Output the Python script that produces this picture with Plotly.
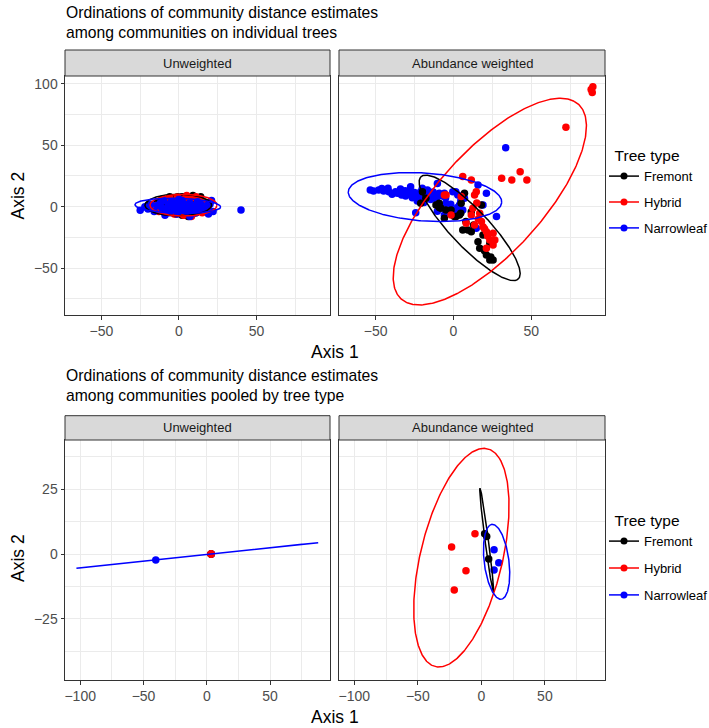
import numpy as np
import plotly.graph_objects as go

W, H = 709, 728

groups = ["Fremont", "Hybrid", "Narrowleaf"]
colors = {"Fremont": "#000000", "Hybrid": "#FF0000", "Narrowleaf": "#0000FF"}

# ---------------- Top: individual trees, Unweighted ----------------
ind_uw_fremont_x = [-19, -16, -14, -12, -11, -9, -8, -7, -5, -4, -3, -2, -1, 0, 1, 2, 3, 4, 5, 6, 7, 8, 9, 10, 11, 12, 13, 14, 15, 16, 17, 6, 9, -6, 2]
ind_uw_fremont_y = [2, -1, 4, -3, 6, 1, -5, 3, -2, 7, 0, -6, 5, 2, -4, 8, -1, 3, -7, 6, 0, -3, 7, 2, -5, 4, -2, 8, 1, -4, 3, -8, 9, 8, -7]
ind_uw_hybrid_x = [-15, -13, -10, -8, -6, -5, -3, -1, 0, 1, 2, 3, 4, 5, 6, 7, 8, 9, 10, 11, 12, 13, 14, 15, 16, 18, 19, 3, 8, 11, -2, 5]
ind_uw_hybrid_y = [1, -4, 5, -2, 7, 3, -6, 8, -1, 4, -5, 6, 2, 8, -3, 5, 7, -6, 1, 8, -2, 6, 4, -5, 2, 0, -3, -7, -8, 7, 3, 9]
ind_uw_narrow_x = [-25, -22, -20, -18, -16, -14, -12, -11, -10, -8, -7, -6, -5, -4, -3, -2, -1, 0, 1, 2, 3, 4, 5, 6, 7, 8, 9, 10, 11, 12, 13, 14, 16, 18, 19, 20, 21, 22, 40, -9, 0, 7, 3]
ind_uw_narrow_y = [-3, 0, -2, 2, -4, 1, 3, -1, 5, -3, 2, -5, 4, 0, -2, 3, -6, 1, -3, 5, -1, 2, -4, 0, 3, -6, -2, 1, -5, 4, -1, 2, -3, 1, -6, 2, 5, -4, -2.7, -7, 6, -8, -3]

# ---------------- Top: individual trees, Abundance weighted ----------------
ind_aw_fremont_x = [-8, -4.8, 0.6, 3.9, 7.1, 5, 11.5, 6, 9.3, 11.5, 18, 15.8, 16.9, 21.2, 23.4, 25.5, 23.4, 19, -9.1, -19.9, -17.7, -21, -11.2, -9.1, -5.8, -1.5, 1.7, 4.7, 13, 20, 24, 8]
ind_aw_fremont_y = [-1.3, -2.7, -8.1, -6.8, 10.9, 2.8, -4.1, -19, -19, -20.4, 1.4, -28.5, -33.9, -39.4, -43.4, -43.4, -29.8, -23, 2.8, 12.2, 6.8, 2.8, 1.4, -0.7, -9.5, -2.7, -8.1, -5.4, -15, -36, -41, -12]
ind_aw_hybrid_x = [6, 11.5, 14.7, 13.6, -4.7, 16.9, 11.5, 13.6, 19, 21.2, 25.5, 23.4, 25.5, 21.2, 26.6, 12.5, 8.2, 31, 37.5, 42.9, 47.2, -5.8, -1.5, 5, 72.3, 89.6, 88.5, 89.2, 16, 18, 22, 15, 20]
ind_aw_hybrid_y = [24.5, 21.8, 12.2, 9.5, 9.5, -5.4, -6.8, -14.9, -16.3, -20.4, -21.7, -27.1, -31.2, -33.9, -27.1, -1.3, -13.5, 23.1, 21.8, 28.5, 21.8, 9.5, -6.8, 8.2, 64.7, 97.8, 95.5, 93, -10, -12, -24, 3, -18]
ind_aw_narrow_x = [-53.4, -51.3, -48, -44.8, -41.5, -39.4, -37.2, -34, -33.3, -30.7, -28.6, -27.5, -26.4, -24.2, -23.2, -21, -19.9, -18.9, -16.7, -14.6, -12.4, -10.3, -9.2, -7.1, -24.2, -10.3, -5, -1.7, 1.5, 2.6, 4.7, -9.1, -5.8, -4.8, -0.4, 2.8, 3.9, 7.1, 6.0, 0.6, 15.8, 21.2, 19, 27.7, -5.8, 14.7, 33.6, -46, -42, -36, -31, -29, -25, -22, -17, -15, -13, -20, -11]
ind_aw_narrow_y = [13.6, 12.8, 13.6, 12.8, 12.2, 10.1, 12.2, 14.4, 9.6, 8.6, 12.2, 16.2, 7.3, 9.6, 4.6, 12.2, 8.6, 3.3, 13.6, 5.9, 9.6, 18.9, 2.0, 8.6, -5, -3.8, 7.3, 2.0, 12.2, -0.7, 4.6, 10.9, 10.9, 2.8, 12.2, 9.6, 1.4, 6.9, -2.7, -2.7, 17.7, 10.9, 1.4, -8.1, -6.8, -17.6, 48, 14.8, 15, 11, 13, 10.5, 11.5, 7, 10, 8.5, 12, 15, 6.5]

# ---------------- Bottom: pooled by tree type ----------------
pool_uw_fremont_x = [3.4, 3.4, 3.4]
pool_uw_fremont_y = [0.0, 0.0, 0.0]
pool_uw_hybrid_x = [3.4, 3.4, 3.4]
pool_uw_hybrid_y = [0.0, 0.0, 0.0]
pool_uw_narrow_x = [-40.3, 3.4]
pool_uw_narrow_y = [-2.3, 0.0]

pool_aw_fremont_x = [2.6, 4.2, 5.8]
pool_aw_fremont_y = [7.8, 6.8, -1.9]
pool_aw_hybrid_x = [-5.0, -23.4, -12.1, -21.3]
pool_aw_hybrid_y = [7.8, 2.7, -6.4, -13.9]
pool_aw_narrow_x = [10.0, 13.7, 10.0]
pool_aw_narrow_y = [1.7, -3.4, -6.2]

# ellipse parameters (centre x, centre y, semi-axis a, semi-axis b, angle deg)
ell_ind_uw = {"Fremont": (-0.45, 1.3, 21.5, 8.8, 0.0),
              "Hybrid": (2.9, 1.2, 21.6, 8.8, 0.0),
              "Narrowleaf": (-0.75, 0.7, 27.65, 6.1, -2.0)}
ell_ind_aw = {"Fremont": (10.45, -17.25, 52.2, 13.3, -54.1),
              "Hybrid": (23.4, 4.1, 98.1, 36.4, 56.5),
              "Narrowleaf": (-18.25, 7.85, 49.5, 19.5, -5.5)}
ell_pool_uw = {"Narrowleaf": (-7.5, -0.55, 95.6, 0.0, 2.97)}
ell_pool_aw = {"Fremont": (4.2, 5.4, 20.7, 1.3, 104.8),
               "Hybrid": (-15.7, -1.4, 48.6, 28.7, 52.0),
               "Narrowleaf": (12.0, -3.0, 15.1, 9.4, 111.5)}

top_x_range = [-73.5, 97.4]
top_y_range = [-88.3, 106.5]
bot_x_range = [-112.0, 97.3]
bot_y_range = [-48.6, 44.0]

titles = ["Ordinations of community distance estimates<br>among communities on individual trees",
          "Ordinations of community distance estimates<br>among communities pooled by tree type"]
strip_labels = ["Unweighted", "Abundance weighted"]
legend_title = "Tree type"


def ellipse(cx, cy, a, b, ang):
    t = np.linspace(0, 2 * np.pi, 361)
    th = np.deg2rad(ang)
    x = cx + a * np.cos(t) * np.cos(th) - b * np.sin(t) * np.sin(th)
    y = cy + a * np.cos(t) * np.sin(th) + b * np.sin(t) * np.cos(th)
    return x, y


fig = go.Figure()

panels = [
    ("x", "y", {"Fremont": (ind_uw_fremont_x, ind_uw_fremont_y), "Hybrid": (ind_uw_hybrid_x, ind_uw_hybrid_y),
                "Narrowleaf": (ind_uw_narrow_x, ind_uw_narrow_y)}, ell_ind_uw, ["Fremont", "Hybrid", "Narrowleaf"]),
    ("x2", "y2", {"Fremont": (ind_aw_fremont_x, ind_aw_fremont_y), "Hybrid": (ind_aw_hybrid_x, ind_aw_hybrid_y),
                  "Narrowleaf": (ind_aw_narrow_x, ind_aw_narrow_y)}, ell_ind_aw, ["Narrowleaf", "Fremont", "Hybrid"]),
    ("x3", "y3", {"Fremont": (pool_uw_fremont_x, pool_uw_fremont_y), "Hybrid": (pool_uw_hybrid_x, pool_uw_hybrid_y),
                  "Narrowleaf": (pool_uw_narrow_x, pool_uw_narrow_y)}, ell_pool_uw, ["Fremont", "Narrowleaf", "Hybrid"]),
    ("x4", "y4", {"Fremont": (pool_aw_fremont_x, pool_aw_fremont_y), "Hybrid": (pool_aw_hybrid_x, pool_aw_hybrid_y),
                  "Narrowleaf": (pool_aw_narrow_x, pool_aw_narrow_y)}, ell_pool_aw, ["Fremont", "Hybrid", "Narrowleaf"]),
]

for xa, ya, pts, ells, order in panels:
    for g in order:
        px, py = pts[g]
        fig.add_trace(go.Scatter(x=px, y=py, xaxis=xa, yaxis=ya, mode="markers",
                                 marker=dict(color=colors[g], size=7.5, line=dict(width=0)),
                                 showlegend=False, hoverinfo="skip"))
    for g in groups:
        if g in ells:
            ex, ey = ellipse(*ells[g])
            fig.add_trace(go.Scatter(x=ex, y=ey, xaxis=xa, yaxis=ya, mode="lines",
                                     line=dict(color=colors[g], width=1.5),
                                     showlegend=False, hoverinfo="skip"))

# legend entries
for lg in ["legend", "legend2"]:
    for g in groups:
        fig.add_trace(go.Scatter(x=[None], y=[None], xaxis="x", yaxis="y", mode="lines+markers", name=g,
                                 line=dict(color=colors[g], width=1.5),
                                 marker=dict(color=colors[g], size=7),
                                 legend=lg, legendgroup=lg + g, showlegend=True))

def px2x(p):
    return p / W

def py2y(p):
    return 1 - p / H

xd1 = [px2x(65), px2x(330)]
xd2 = [px2x(339), px2x(605)]
yd_top = [py2y(315), py2y(76)]
yd_bot = [py2y(680), py2y(440)]

grid = "#EBEBEB"
border = "#333333"
tickc = "#4D4D4D"
FONT = "Liberation Sans, Arial, Helvetica, sans-serif"

def axis(domain, rng, anchor, dtick, minor_dtick, show_labels=True):
    return dict(domain=domain, range=rng, anchor=anchor, dtick=dtick, tick0=0,
                showgrid=True, gridcolor=grid, gridwidth=1.1,
                minor=dict(dtick=minor_dtick, tick0=0, showgrid=True, gridcolor=grid, gridwidth=0.55, ticks=""),
                zeroline=False, showline=True, linecolor=border, linewidth=1, mirror=True,
                ticks="outside" if show_labels else "", ticklen=3.5, tickcolor=border, tickwidth=1,
                showticklabels=show_labels, automargin=False,
                tickfont=dict(size=14, color=tickc, family=FONT))

leg_title = dict(text="&nbsp;&nbsp;" + legend_title, font=dict(size=15.5, color="#000000", family=FONT))

fig.update_layout(
    width=W, height=H, autosize=False, margin=dict(l=0, r=0, t=0, b=0, autoexpand=False),
    plot_bgcolor="white", paper_bgcolor="white",
    font=dict(family=FONT, color="#000000"),
    xaxis=axis(xd1, top_x_range, "y", 50, 25),
    yaxis=axis(yd_top, top_y_range, "x", 50, 25),
    xaxis2=axis(xd2, top_x_range, "y2", 50, 25),
    yaxis2=axis(yd_top, top_y_range, "x2", 50, 25, show_labels=False),
    xaxis3=axis(xd1, bot_x_range, "y3", 50, 25),
    yaxis3=axis(yd_bot, bot_y_range, "x3", 25, 12.5),
    xaxis4=axis(xd2, bot_x_range, "y4", 50, 25),
    yaxis4=axis(yd_bot, bot_y_range, "x4", 25, 12.5, show_labels=False),
    legend=dict(x=px2x(604), y=py2y(141), xanchor="left", yanchor="top", title=leg_title,
                font=dict(size=13, color="#000000", family=FONT), tracegroupgap=6,
                bgcolor="rgba(0,0,0,0)", itemwidth=30),
    legend2=dict(x=px2x(604), y=py2y(506), xanchor="left", yanchor="top", title=leg_title,
                 font=dict(size=13, color="#000000", family=FONT), tracegroupgap=7,
                 bgcolor="rgba(0,0,0,0)", itemwidth=30),
)

shapes = []
annotations = []
strips = [(50, 76), (415.7, 440)]
for (s0, s1) in strips:
    for xd, lab in zip([xd1, xd2], strip_labels):
        shapes.append(dict(type="rect", xref="paper", yref="paper", x0=xd[0], x1=xd[1],
                           y0=py2y(s1), y1=py2y(s0), fillcolor="#D9D9D9",
                           line=dict(color=border, width=1), layer="above"))
        annotations.append(dict(text=lab, xref="paper", yref="paper", x=(xd[0] + xd[1]) / 2,
                                y=py2y((s0 + s1) / 2), showarrow=False, xanchor="center", yanchor="middle",
                                font=dict(size=13, color="#1A1A1A", family=FONT)))

for t, ytop in zip(titles, [1.5, 365.0]):
    annotations.append(dict(text=t, xref="paper", yref="paper", x=px2x(64), y=py2y(ytop),
                            xanchor="left", yanchor="top", align="left", showarrow=False,
                            font=dict(size=15.7, color="#000000", family=FONT)))

for yc in [351.5, 717]:
    annotations.append(dict(text="Axis 1", xref="paper", yref="paper", x=px2x(335), y=py2y(yc),
                            xanchor="center", yanchor="middle", showarrow=False,
                            font=dict(size=17.5, color="#000000", family=FONT)))
for yc in [195.5, 558]:
    annotations.append(dict(text="Axis 2", xref="paper", yref="paper", x=px2x(18), y=py2y(yc),
                            xanchor="center", yanchor="middle", showarrow=False, textangle=-90,
                            font=dict(size=17.5, color="#000000", family=FONT)))

fig.update_layout(shapes=shapes, annotations=annotations)
fig.write_html("out.html", config={"displayModeBar": False, "responsive": False},
               post_script="document.documentElement.style.overflow='hidden';"
                           "document.body.style.overflow='hidden';"
                           "document.body.style.margin='0';document.body.style.padding='0';")
